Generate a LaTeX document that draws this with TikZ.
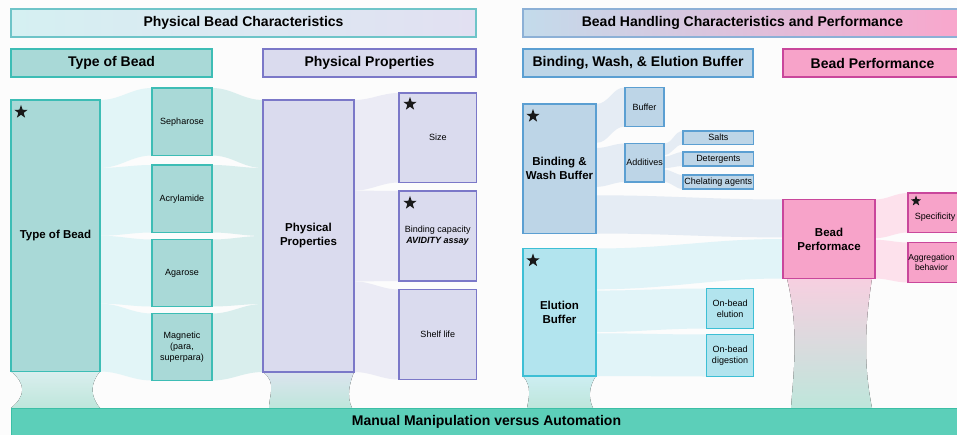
\documentclass[tikz,border=0pt]{standalone}
\usepackage{fontspec}
\setmainfont{Liberation Sans}
\usetikzlibrary{calc,shapes.geometric}
\definecolor{tealF}{HTML}{A9D9D7}
\definecolor{tealD}{HTML}{3DBDB5}
\definecolor{lavF}{HTML}{DADBEE}
\definecolor{lavD}{HTML}{7B78C8}
\definecolor{bluF}{HTML}{BDD5E7}
\definecolor{bluD}{HTML}{5B9FD2}
\definecolor{cyaF}{HTML}{B2E4EE}
\definecolor{cyaD}{HTML}{3DBFD5}
\definecolor{pnkF}{HTML}{F7A3C9}
\definecolor{pnkD}{HTML}{C9479B}
\definecolor{barF}{HTML}{5CCFB9}
\definecolor{barD}{HTML}{3CBFA6}
\definecolor{bandA}{HTML}{E2F5F7}
\definecolor{bandB}{HTML}{D9EEED}
\definecolor{bandC}{HTML}{EBEBF5}
\definecolor{bandD}{HTML}{E5ECF4}
\definecolor{bandE}{HTML}{E1F4F8}
\definecolor{bandF}{HTML}{FDE1EC}
\definecolor{ribBot}{HTML}{BEE6DB}
\definecolor{hOneL}{HTML}{D5F0F2}
\definecolor{hOneR}{HTML}{E2E0F2}
\definecolor{hOneD}{HTML}{6EC4C8}
\definecolor{hTwoL}{HTML}{C3DBEB}
\definecolor{hTwoR}{HTML}{F9A6CC}
\definecolor{hTwoD}{HTML}{8CB0D6}
\definecolor{ribTobT}{HTML}{DAEEEE}
\definecolor{ribPpT}{HTML}{DCE4EE}
\definecolor{ribElT}{HTML}{CDEEF2}
\definecolor{ribBpT}{HTML}{F7CFE0}
\definecolor{ribBpM}{HTML}{DAD8DE}
\pgfdeclarelayer{bg}
\pgfsetlayers{bg,main}
\newcommand\boxnode[7]{\node[#1, minimum width={#5-#3}, minimum height={#6-#4}] (#2) at (#3,#4) {#7};}
\newcommand\band[7]{\fill[#1] ($(#2.north east)!#3!(#2.south east)$) to[out=0,in=180] ($(#5.north west)!#6!(#5.south west)$) -- ($(#5.north west)!#7!(#5.south west)$) to[out=180,in=0] ($(#2.north east)!#4!(#2.south east)$) -- cycle;}
\tikzset{
  base/.style={draw, line width=1.1pt, inner sep=1pt, outer sep=0pt, align=center, anchor=north west},
  hdr/.style={base, font=\fontsize{14}{16}\selectfont\bfseries},
  big/.style={base, font=\fontsize{11.5}{14}\selectfont\bfseries},
  small/.style={base, font=\fontsize{9}{10.8}\selectfont},
  tealbox/.style={fill=tealF, draw=tealD},
  lavbox/.style={fill=lavF, draw=lavD},
  blubox/.style={fill=bluF, draw=bluD},
  cyabox/.style={fill=cyaF, draw=cyaD},
  pnkbox/.style={fill=pnkF, draw=pnkD},
  starmark/.style={star, star points=5, star point ratio=2.5, fill=black!90, draw=none, minimum size=14pt, inner sep=0pt},
  smallstar/.style={starmark, minimum size=11pt}
}
\begin{document}
\begin{tikzpicture}[x=1pt,y=-1pt]
\useasboundingbox (0,0) rectangle (957,435);
\clip (0,0) rectangle (957,435);
% headers
\node[hdr, left color=hOneL, right color=hOneR, draw=hOneD, minimum width=465, minimum height=28] (h1) at (11,9) {Physical Bead Characteristics};
\node[hdr, left color=hTwoL, right color=hTwoR, draw=hTwoD, minimum width=439, minimum height=28] (h2) at (523,9) {Bead Handling Characteristics and Performance};
\boxnode{hdr,tealbox}{h3}{11}{49}{212}{77}{Type of Bead}
\boxnode{hdr,lavbox}{h4}{263}{49}{476}{77}{Physical Properties}
\boxnode{hdr,blubox}{h5}{523}{49}{753}{77}{Binding, Wash, \& Elution Buffer}
\boxnode{hdr,pnkbox}{h6}{783}{49}{962}{77}{Bead Performance}
% type of bead column
\boxnode{big,tealbox}{tob}{11}{100}{100}{371.5}{Type of Bead}
\boxnode{small,tealbox}{seph}{152}{88}{212}{155.5}{Sepharose}
\boxnode{small,tealbox}{acry}{152}{165}{212}{232.5}{Acrylamide}
\boxnode{small,tealbox}{agar}{152}{239.5}{212}{306.5}{Agarose}
\boxnode{small,tealbox}{magn}{152}{313.5}{212}{380.5}{Magnetic\\(para,\\superpara)}
% physical properties column
\boxnode{big,lavbox}{pp}{263}{100}{354}{372}{Physical\\Properties}
\boxnode{small,lavbox}{size}{399}{93}{476.5}{182.5}{Size}
\boxnode{small,lavbox}{bcap}{399}{191}{476.5}{281}{Binding capacity\\\textbf{\textit{AVIDITY assay}}}
\boxnode{small,lavbox}{shelf}{399}{289.5}{476.5}{379.5}{Shelf life}
% buffers
\boxnode{big,blubox}{bw}{523}{104}{596}{233.5}{Binding \&\\Wash Buffer}
\boxnode{big,cyabox}{el}{523}{248.5}{596}{376}{Elution\\Buffer}
\boxnode{small,blubox,inner sep=0pt}{buf}{625}{87.5}{664}{126.5}{Buffer}
\boxnode{small,blubox,inner sep=0pt}{add}{625}{143.5}{664}{182}{Additives}
\boxnode{small,blubox,inner sep=0pt}{salts}{683}{131}{753.5}{144.5}{Salts}
\boxnode{small,blubox,inner sep=0pt}{det}{683}{152}{753.5}{166}{Detergents}
\boxnode{small,blubox,inner sep=0pt}{chel}{683}{175}{753.5}{189}{Chelating agents}
\boxnode{small,cyabox}{obe}{706.5}{288.5}{753.5}{328.5}{On-bead\\elution}
\boxnode{small,cyabox}{obd}{706.5}{334.5}{753.5}{376.5}{On-bead\\digestion}
% performance
\boxnode{big,pnkbox}{bp}{783}{199.5}{875}{278.5}{Bead\\Performace}
\boxnode{small,pnkbox}{spec}{908}{193}{962}{232.5}{\vphantom{X}\\[-1pt]Specificity}
\boxnode{small,pnkbox,inner sep=0pt,font=\fontsize{8.6}{10.6}\selectfont}{agg}{908}{242.5}{962}{282.5}{\hspace*{-7pt}Aggregation\\\hspace*{-7pt}behavior}
% bottom bar
\node[base, fill=barF, draw=barD, line width=1pt, font=\fontsize{14}{16}\selectfont\bfseries, minimum width=951, minimum height=28] (bar) at (11,408) {Manual Manipulation versus Automation};
% stars
\node[starmark] (st1) at ($(tob.north west)+(10,12)$) {};
\node[starmark] (st2) at ($(size.north west)+(11,11)$) {};
\node[starmark] (st3) at ($(bcap.north west)+(11,12)$) {};
\node[starmark] (st4) at ($(bw.north west)+(10,12)$) {};
\node[starmark] (st5) at ($(el.north west)+(10,12)$) {};
\node[smallstar] (st6) at ($(spec.north west)+(8,8)$) {};
% bands
\begin{pgfonlayer}{bg}
\fill[white!99!black] (0,0) rectangle (957,435);
\band{bandA}{tob}{0}{0.25}{seph}{0}{1}
\band{bandA}{tob}{0.25}{0.5}{acry}{0}{1}
\band{bandA}{tob}{0.5}{0.75}{agar}{0}{1}
\band{bandA}{tob}{0.75}{1}{magn}{0}{1}
\fill[bandB] (seph.north east) to[out=0,in=180] ($(pp.north west)!0!(pp.south west)$) -- ($(pp.north west)!0.25!(pp.south west)$) to[out=180,in=0] (seph.south east) -- cycle;
\fill[bandB] (acry.north east) to[out=0,in=180] ($(pp.north west)!0.25!(pp.south west)$) -- ($(pp.north west)!0.5!(pp.south west)$) to[out=180,in=0] (acry.south east) -- cycle;
\fill[bandB] (agar.north east) to[out=0,in=180] ($(pp.north west)!0.5!(pp.south west)$) -- ($(pp.north west)!0.75!(pp.south west)$) to[out=180,in=0] (agar.south east) -- cycle;
\fill[bandB] (magn.north east) to[out=0,in=180] ($(pp.north west)!0.75!(pp.south west)$) -- ($(pp.north west)!1!(pp.south west)$) to[out=180,in=0] (magn.south east) -- cycle;
\band{bandC}{pp}{0}{0.333}{size}{0}{1}
\band{bandC}{pp}{0.333}{0.667}{bcap}{0}{1}
\band{bandC}{pp}{0.667}{1}{shelf}{0}{1}
\band{bandD}{bw}{0}{0.30}{buf}{0}{1}
\band{bandD}{bw}{0.34}{0.64}{add}{0}{1}
\band{bandD}{bw}{0.705}{1}{bp}{0}{0.48}
\band{bandD}{add}{0}{0.30}{salts}{0}{1}
\band{bandD}{add}{0.34}{0.64}{det}{0}{1}
\band{bandD}{add}{0.68}{1}{chel}{0}{1}
\band{bandE}{el}{0}{0.32}{bp}{0.5}{1}
\band{bandE}{el}{0.33}{0.655}{obe}{0}{1}
\band{bandE}{el}{0.665}{1}{obd}{0}{1}
\band{bandF}{bp}{0}{0.49}{spec}{0}{1}
\band{bandF}{bp}{0.51}{1}{agg}{0}{1}
% vertical ribbons
\fill[top color=ribTobT, bottom color=ribBot] (tob.south west) .. controls +(15,12) and +(15,-12) .. (tob.west |- bar.north) -- (tob.east |- bar.north) .. controls +(-10,-12) and +(-10,12) .. (tob.south east) -- cycle;
\fill[top color=ribPpT, bottom color=ribBot] (pp.south west) .. controls +(14,10) and +(0,-12) .. ($(pp.west |- bar.north)+(6,0)$) -- ($(pp.east |- bar.north)+(-2,0)$) .. controls +(-6,-12) and +(-4,10) .. (pp.south east) -- cycle;
\fill[top color=ribElT, bottom color=ribBot] (el.south west) .. controls +(9,10) and +(2,-10) .. ($(el.west |- bar.north)+(4,0)$) -- ($(el.east |- bar.north)+(-3,0)$) .. controls +(-5,-10) and +(-7,10) .. (el.south east) -- cycle;
\fill[top color=ribBpT, middle color=ribBpM, bottom color=ribBot] ($(bp.south west)+(4,0)$) .. controls +(12,50) and +(3,-40) .. ($(bp.west |- bar.north)+(8,0)$) -- ($(bp.east |- bar.north)+(-3,0)$) .. controls +(-8,-40) and +(-8,50) .. ($(bp.south east)+(-3,0)$) -- cycle;
\end{pgfonlayer}
\end{tikzpicture}
\end{document}
